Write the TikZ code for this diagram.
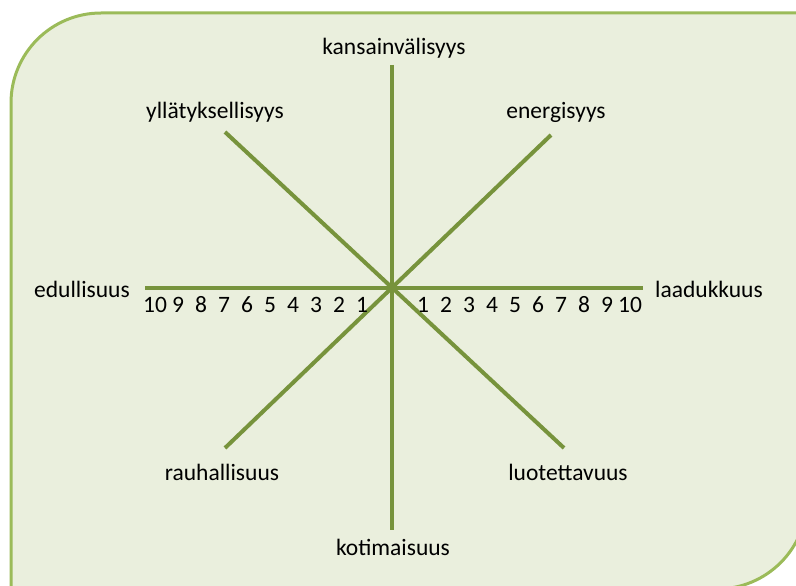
\documentclass[tikz,border=0pt]{standalone}
\usepackage{fontspec}
\setmainfont{Carlito}
\usepackage{tikz}
\usetikzlibrary{positioning}
\definecolor{axisgreen}{RGB}{119,147,60}
\definecolor{frameborder}{RGB}{155,187,89}
\definecolor{framefill}{RGB}{234,239,221}
\tikzset{
  axis/.style={line width=4pt, color=axisgreen},
  frame/.style={line width=3pt, draw=frameborder, fill=framefill},
  pole/.style={inner sep=0pt, anchor=base, font=\fontsize{23.5}{28}\selectfont},
  tick/.style={inner sep=0pt, anchor=base, font=\fontsize{23.5}{28}\selectfont},
}

\begin{document}
\begin{tikzpicture}[x=1pt, y=-1pt]
  \useasboundingbox (0,0) rectangle (796,586);
  % background panel, two round corners
  \draw[frame] (11,620) -- (11,103) arc[start angle=180, end angle=270, radius=90]
    -- (830,13) -- (830,499) -- (807,499) arc[start angle=0, end angle=90, radius=90]
    -- (700,589) -- (700,620) -- cycle;

  \coordinate (mid) at (392,288);
  \coordinate (n) at (392,65);
  \coordinate (s) at (392,530);
  \coordinate (w) at (145,288);
  \coordinate (e) at (643,288);
  \coordinate (nw) at (225,132);
  \coordinate (ne) at (551,135);
  \coordinate (sw) at (225,448);
  \coordinate (se) at (564,448);

  \draw[axis] (w) -- (e);
  \draw[axis] (n) -- (s);
  \draw[axis] (nw) -- (se);
  \draw[axis] (sw) -- (ne);

  \node[pole] (kans) at (394,55) {kansainvälisyys};
  \node[pole] (yllat) at (215,118) {yllätyksellisyys};
  \node[pole] (energ) at (556,118) {energisyys};
  \node[pole] (edul) at (82,297) {edullisuus};
  \node[pole] (laad) at (709,297) {laadukkuus};
  \node[pole] (rauh) at (222,480) {rauhallisuus};
  \node[pole] (luot) at (568,480) {luotettavuus};
  \node[pole] (koti) at (393,555) {kotimaisuus};

  % scale marks
  \foreach \i in {1,...,10} {
    \node[tick] (left\i) at ({362-23*(\i-1)},312) {\i};
    \node[tick] (right\i) at ({423+23*(\i-1)},312) {\i};
  }
\end{tikzpicture}
\end{document}
